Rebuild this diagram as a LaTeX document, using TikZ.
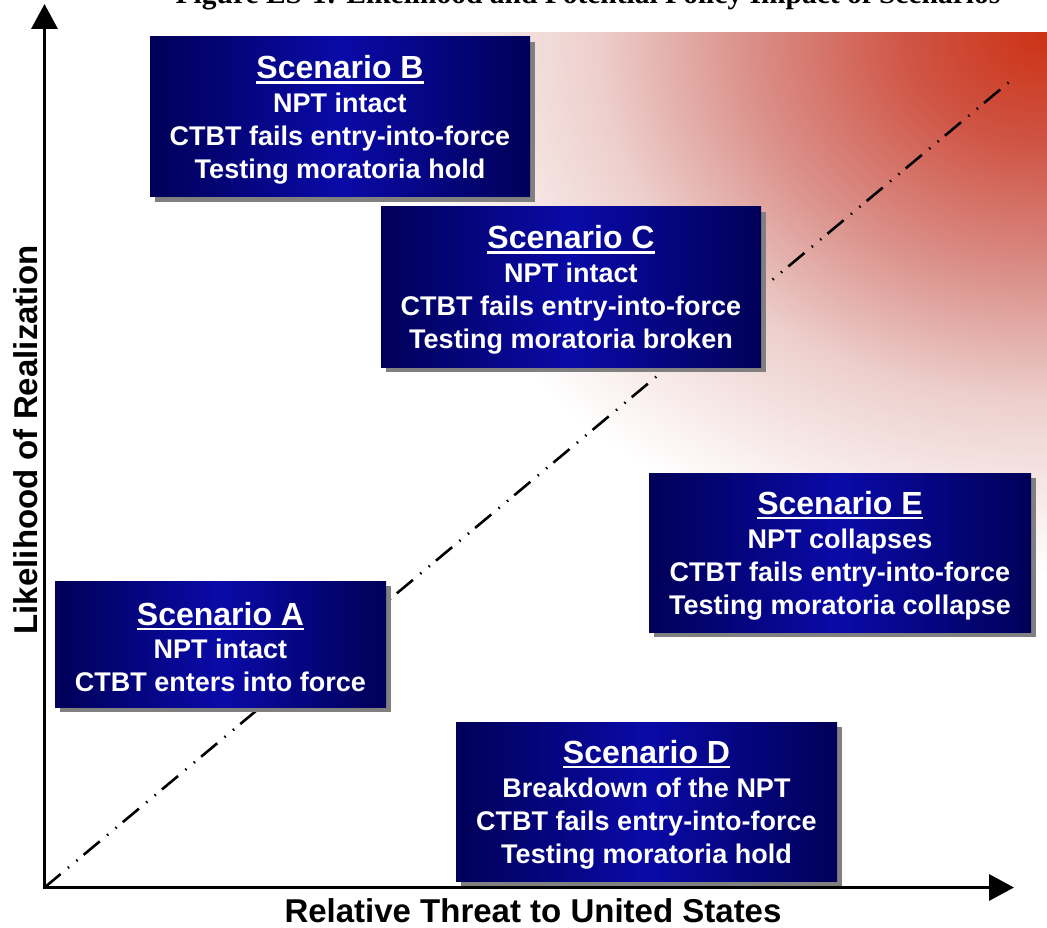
\documentclass[tikz,border=0pt]{standalone}
\usepackage{fontspec}
\setmainfont{Liberation Sans}
\newfontfamily\titlefont{Liberation Serif}
\usetikzlibrary{arrows.meta, shadows}

\definecolor{boxnavy}{HTML}{000058}
\definecolor{boxblue}{HTML}{0A0AA8}
\definecolor{threatred}{HTML}{CC3316}
\definecolor{threatmid}{HTML}{CF5444}
\definecolor{threatrose}{HTML}{DA8E88}
\definecolor{threatpale}{HTML}{EDD0CD}
\definecolor{shadowgray}{HTML}{808080}

\pgfdeclareradialshading{threat}{\pgfpoint{0bp}{0bp}}{color(0bp)=(threatred); color(5bp)=(threatmid); color(11bp)=(threatrose); color(17bp)=(threatpale); color(25bp)=(white); color(50bp)=(white)}

\newcommand{\ulin}[1]{\setbox0\hbox{#1}\rlap{\rule[-5pt]{\wd0}{2.6pt}}\box0}
\newcommand{\scentitle}[1]{{\fontsize{32}{36}\selectfont\rule{0pt}{29pt}\ulin{Scenario #1}}}

\begin{document}
\begin{tikzpicture}[x=1pt, y=-1pt,
    scenario/.style={rectangle, minimum width=380pt, minimum height=160pt, inner sep=0pt,
                     align=center, text=white, font=\fontsize{27}{33}\selectfont\bfseries,
                     left color=boxnavy, right color=boxnavy, middle color=boxblue,
                     drop shadow={shadow xshift=5pt, shadow yshift=-5pt, fill=shadowgray, opacity=1}},
    axis/.style={line width=3.5pt, -{Triangle[length=25pt, width=26pt]}},
    trendline/.style={line width=2.6pt, dash pattern=on 21pt off 9.5pt on 1.5pt off 9.5pt on 1.5pt off 8pt},
    axislabel/.style={font=\fontsize{33}{36}\selectfont\bfseries}
]
    \useasboundingbox (0,0) rectangle (1047,928);

    % Title (cut at the top)
    \node[font=\titlefont\fontsize{29.5}{32}\selectfont\bfseries, anchor=base] (figtitle) at (588,4)
        {Figure ES-1: Likelihood and Potential Policy Impact of Scenarios};

    % Threat gradient
    \begin{scope}
        \clip (0,33) rectangle (1047,928);
        \shade[shading=threat] (1042,35) ellipse[x radius=660pt, y radius=540pt];
    \end{scope}

    % Axes points
    \coordinate (origin) at (44.5,887.5);
    \coordinate (ytip) at (44.5,4);
    \coordinate (xtip) at (1014,887.5);
    \coordinate (trend) at (1014,78);

    % Trend line
    \draw[trendline] (origin) -- (trend);

    % Scenarios
    \node[scenario] (scenB) at (340,117) {\scentitle{B}\\[1pt] NPT intact\\ CTBT fails entry-into-force\\ Testing moratoria hold};
    \node[scenario] (scenC) at (571,287) {\scentitle{C}\\[1pt] NPT intact\\ CTBT fails entry-into-force\\ Testing moratoria broken};
    \node[scenario, minimum width=382pt, minimum height=159pt] (scenE) at (840,552.5) {\scentitle{E}\\[1pt] NPT collapses\\ CTBT fails entry-into-force\\ Testing moratoria collapse};
    \node[scenario, minimum width=331pt, minimum height=126pt] (scenA) at (220.5,644) {\scentitle{A}\\ NPT intact\\ CTBT enters into force};
    \node[scenario, minimum width=381pt, minimum height=159pt] (scenD) at (646.5,801.5) {\scentitle{D}\\[1pt] Breakdown of the NPT\\ CTBT fails entry-into-force\\ Testing moratoria hold};

    % Axes
    \draw[axis] ([yshift=-1.75pt]origin) -- (ytip);
    \draw[axis] ([xshift=-1.75pt]origin) -- (xtip);

    % Axis labels
    \node[axislabel, rotate=90, anchor=base] (ylabel) at (37,440) {Likelihood of Realization};
    \node[axislabel, anchor=base] (xlabel) at (533,922) {Relative Threat to United States};

\end{tikzpicture}
\end{document}
